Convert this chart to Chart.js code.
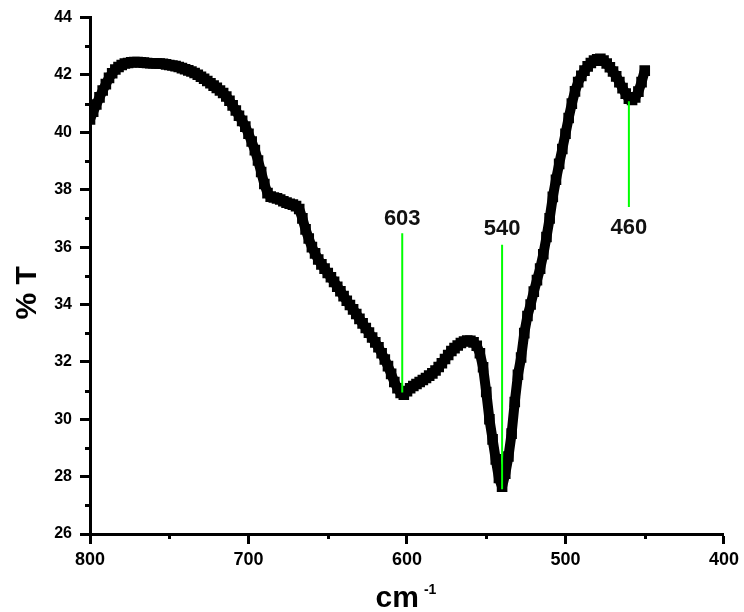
<!DOCTYPE html>
<html>
<head>
<meta charset="utf-8">
<title>FTIR spectrum</title>
<script src="https://cdn.jsdelivr.net/npm/chart.js@4.4.1/dist/chart.umd.min.js"></script>
<style>
  html, body { margin: 0; padding: 0; background: #ffffff; }
  #wrap { width: 744px; height: 612px; }
</style>
</head>
<body>
<div id="wrap"><canvas id="spectrum" width="744" height="612"></canvas></div>
<script>
// Wavenumber grid (cm-1) of the recorded spectrum
const wavenumber = [
  800,798,796,794,792,790,788,786,784,782,780,778,776,774,772,770,768,766,764,762,
  760,758,756,754,752,750,748,746,744,742,740,738,736,734,732,730,728,726,724,722,
  720,718,716,714,712,710,708,706,704,702,700,698,696,694,692,690,688,686,684,682,
  680,678,676,674,672,670,668,666,664,662,660,658,656,654,652,650,648,646,644,642,
  640,638,636,634,632,630,628,626,624,622,620,618,616,614,612,610,608,606,604,602,
  600,598,596,594,592,590,588,586,584,582,580,578,576,574,572,570,568,566,564,562,
  560,558,556,554,552,550,548,546,544,542,540,538,536,534,532,530,528,526,524,522,
  520,518,516,514,512,510,508,506,504,502,500,498,496,494,492,490,488,486,484,482,
  480,478,476,474,472,470,468,466,464,462,460,458,456,454,452,450
];

// Transmittance (%) at each wavenumber
const transmittance = [
  40.45,40.72,40.97,41.22,41.46,41.68,41.90,42.06,42.19,42.28,42.35,42.40,42.42,42.44,42.45,42.45,42.44,42.43,42.42,42.41,
  42.41,42.40,42.40,42.39,42.37,42.35,42.33,42.31,42.28,42.24,42.20,42.16,42.12,42.07,42.01,41.94,41.87,41.79,41.71,41.63,
  41.55,41.46,41.37,41.25,41.10,40.94,40.76,40.58,40.40,40.20,39.95,39.68,39.38,39.02,38.62,38.20,37.88,37.76,37.73,37.70,
  37.66,37.60,37.55,37.51,37.48,37.43,37.33,37.00,36.62,36.30,36.00,35.78,35.57,35.40,35.25,35.10,34.95,34.79,34.62,34.46,
  34.29,34.13,33.98,33.83,33.67,33.50,33.34,33.18,33.02,32.85,32.68,32.51,32.30,32.08,31.85,31.58,31.30,31.08,30.92,30.86,
  30.98,31.08,31.16,31.23,31.30,31.37,31.44,31.52,31.60,31.70,31.82,31.95,32.10,32.24,32.38,32.48,32.57,32.66,32.71,32.74,
  32.73,32.68,32.56,32.30,31.81,30.95,30.00,29.30,28.60,27.95,27.65,28.10,28.70,29.50,30.60,31.55,32.15,33.00,33.60,34.00,
  34.45,34.85,35.25,35.75,36.35,37.00,37.75,38.35,38.90,39.42,39.95,40.50,41.00,41.43,41.75,41.97,42.15,42.30,42.42,42.50,
  42.55,42.56,42.50,42.40,42.27,42.12,41.95,41.75,41.54,41.35,41.17,41.13,41.22,41.42,41.75,42.15
];

// Marked absorption bands: position, marker line span (%T) and label baseline (%T)
const peakWavenumber = [603, 540, 460];
const peakLineFrom   = [30.93, 27.56, 41.08];
const peakLineTo     = [36.48, 36.08, 37.40];
const peakLabelAt    = [36.77, 36.42, 36.44];

// Axis ticks
const xMajorTicks = [800, 700, 600, 500, 400];
const xMinorTicks = [750, 650, 550, 450];
const yMinorTicks = [27, 29, 31, 33, 35, 37, 39, 41, 43];

const FONT = '"Liberation Sans", Arial, Helvetica, sans-serif';

const spectrumPoints = wavenumber.map((w, i) => ({ x: w, y: transmittance[i] }));

const markerSets = peakWavenumber.map((w, i) => ({
  label: 'band ' + w,
  data: [{ x: w, y: peakLineFrom[i] }, { x: w, y: peakLineTo[i] }],
  borderColor: '#00ff00',
  borderWidth: 2,
  pointRadius: 0,
  fill: false,
  tension: 0,
  clip: 0
}));

// Short outward ticks between the labelled ones
const minorTicks = {
  id: 'minorTicks',
  beforeDatasetsDraw(chart) {
    const { ctx, chartArea, scales: { x, y } } = chart;
    ctx.save();
    ctx.strokeStyle = '#000';
    ctx.lineWidth = 3;
    ctx.beginPath();
    xMinorTicks.forEach(v => {
      const px = Math.round(x.getPixelForValue(v)) + 0.5;
      ctx.moveTo(px, chartArea.bottom);
      ctx.lineTo(px, chartArea.bottom + 5);
    });
    yMinorTicks.forEach(v => {
      const py = Math.round(y.getPixelForValue(v)) + 0.5;
      ctx.moveTo(chartArea.left, py);
      ctx.lineTo(chartArea.left - 5, py);
    });
    ctx.stroke();
    ctx.restore();
  }
};

// Wavenumber labels next to the band markers
const peakLabels = {
  id: 'peakLabels',
  afterDatasetsDraw(chart) {
    const { ctx, scales: { x, y } } = chart;
    ctx.save();
    ctx.font = 'bold 22px ' + FONT;
    ctx.fillStyle = '#111';
    ctx.textAlign = 'center';
    ctx.textBaseline = 'alphabetic';
    peakWavenumber.forEach((w, i) => {
      ctx.fillText(String(w), x.getPixelForValue(w), y.getPixelForValue(peakLabelAt[i]));
    });
    ctx.restore();
  }
};

// Axis titles: "% T" and "cm" with a superscript "-1"
const axisTitles = {
  id: 'axisTitles',
  afterDraw(chart) {
    const { ctx, chartArea } = chart;
    ctx.save();
    ctx.fillStyle = '#000';
    ctx.font = 'bold 30px ' + FONT;
    ctx.textAlign = 'center';
    ctx.textBaseline = 'alphabetic';
    ctx.translate(chartArea.left - 54, (chartArea.top + chartArea.bottom) / 2 + 17);
    ctx.rotate(-Math.PI / 2);
    ctx.fillText('% T', 0, 0);
    ctx.restore();

    ctx.save();
    ctx.fillStyle = '#000';
    ctx.textAlign = 'left';
    ctx.textBaseline = 'alphabetic';
    ctx.font = 'bold 30px ' + FONT;
    const base = 'cm';
    const wBase = ctx.measureText(base).width;
    ctx.font = 'bold 14px ' + FONT;
    const sup = '-1';
    const wSup = ctx.measureText(sup).width;
    const gap = 5;
    const left = (chartArea.left + chartArea.right) / 2 - (wBase + gap + wSup) / 2 - 1;
    const baseline = chartArea.bottom + 73;
    ctx.font = 'bold 30px ' + FONT;
    ctx.fillText(base, left, baseline);
    ctx.font = 'bold 14px ' + FONT;
    ctx.fillText(sup, left + wBase + gap, baseline - 13.5);
    ctx.restore();
  }
};

new Chart(document.getElementById('spectrum'), {
  type: 'line',
  data: {
    datasets: [
      ...markerSets,
      {
        label: '% T',
        data: spectrumPoints,
        borderColor: '#000',
        borderWidth: 10,
        borderJoinStyle: 'round',
        borderCapStyle: 'butt',
        tension: 0,
        fill: false,
        pointStyle: 'rect',
        pointRadius: 7.5,
        pointBackgroundColor: '#000',
        pointBorderWidth: 0,
        clip: 0
      }
    ]
  },
  options: {
    responsive: false,
    animation: false,
    events: [],
    layout: { padding: { top: 16, right: 16, bottom: 0, left: 0 } },
    plugins: {
      legend: { display: false },
      tooltip: { enabled: false },
      title: { display: false }
    },
    scales: {
      x: {
        type: 'linear',
        reverse: true,
        min: 400,
        max: 800,
        afterBuildTicks: scale => { scale.ticks = xMajorTicks.map(v => ({ value: v })); },
        afterFit: scale => { scale.height = 78; },
        ticks: {
          color: '#000',
          font: { family: FONT, size: 18, weight: 'bold' },
          padding: 5,
          maxRotation: 0,
          autoSkip: false
        },
        grid: {
          drawOnChartArea: false,
          drawTicks: true,
          tickLength: 10,
          tickWidth: 3,
          tickColor: '#000'
        },
        border: { display: true, color: '#000', width: 3 }
      },
      y: {
        type: 'linear',
        min: 26,
        max: 44,
        afterFit: scale => { scale.width = 90; },
        ticks: {
          stepSize: 2,
          color: '#000',
          font: { family: FONT, size: 16, weight: 'bold' },
          padding: 8
        },
        grid: {
          drawOnChartArea: false,
          drawTicks: true,
          tickLength: 10,
          tickWidth: 3,
          tickColor: '#000'
        },
        border: { display: true, color: '#000', width: 3 }
      }
    }
  },
  plugins: [minorTicks, peakLabels, axisTitles]
});
</script>
</body>
</html>
